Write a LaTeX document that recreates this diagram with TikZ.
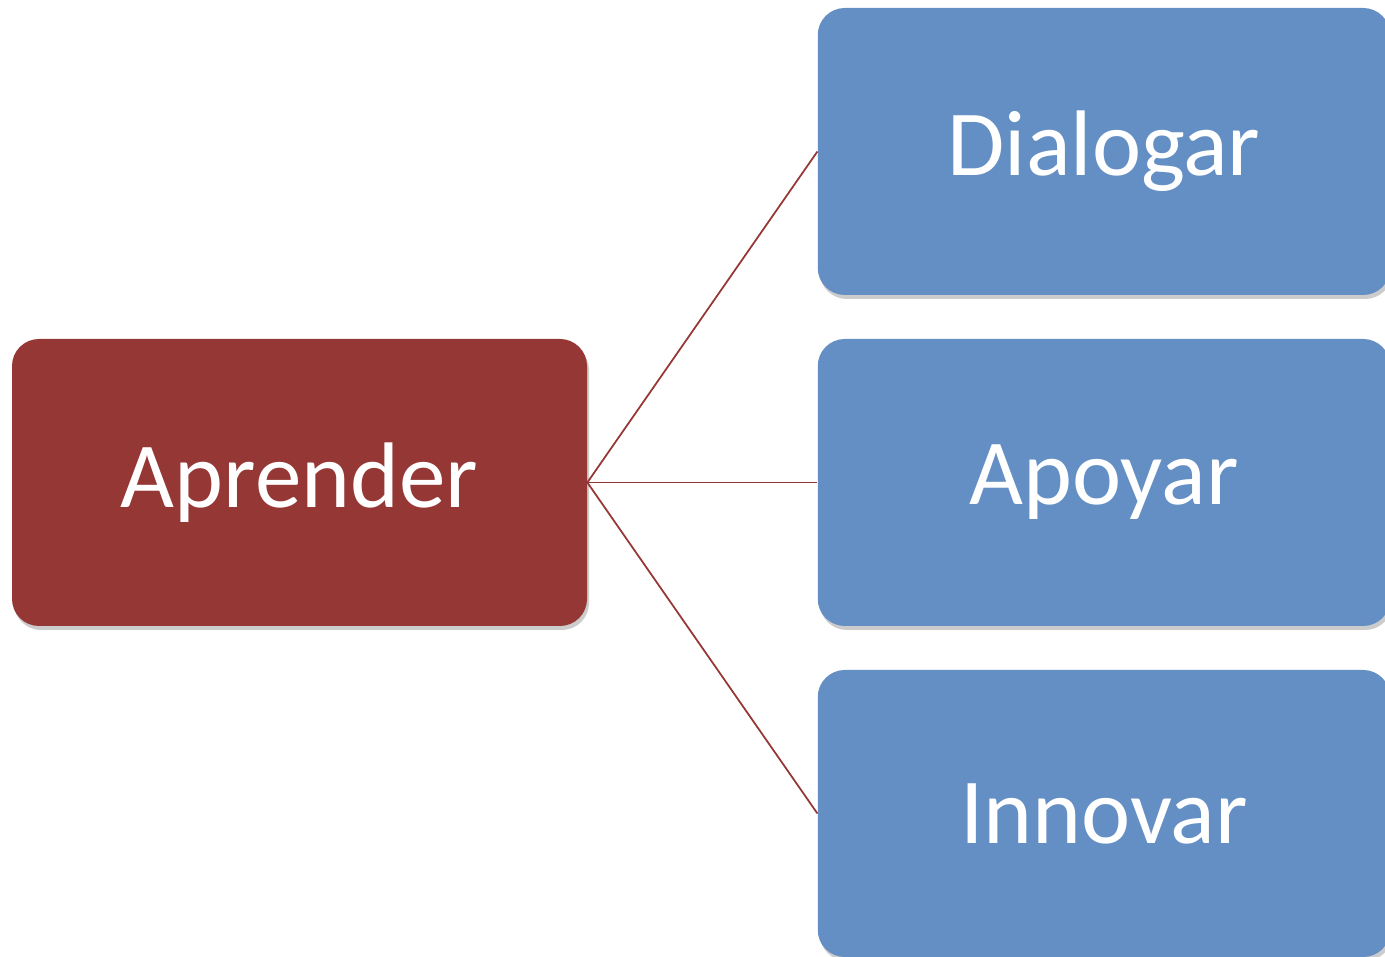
\documentclass[tikz,border=0pt]{standalone}
\usepackage{fontspec}
\setmainfont{Carlito}
\usetikzlibrary{shadows}
\definecolor{rojo}{HTML}{953735}
\definecolor{azul}{HTML}{648FC4}
\tikzset{
  caja/.style={rounded corners=0.54cm, minimum width=11.45cm, minimum height=5.74cm,
    text=white, font=\fontsize{53}{58}\selectfont,
    drop shadow={opacity=0.4, shadow xshift=0.04cm, shadow yshift=-0.08cm}},
  enlace/.style={draw=rojo, line width=1pt}
}
\begin{document}
\begin{tikzpicture}
  \useasboundingbox (0,0) rectangle (27.7,19.14);
  \node[caja, fill=rojo, minimum width=11.5cm] (aprender) at (5.99,9.49) {Aprender};
  \node[caja, fill=azul] (dialogar) at (22.08,16.11) {Dialogar};
  \node[caja, fill=azul] (apoyar) at (22.08,9.49) {Apoyar};
  \node[caja, fill=azul] (innovar) at (22.08,2.87) {Innovar};
  \foreach \n in {dialogar,apoyar,innovar} {
    \draw[enlace] (aprender.east) -- (\n.west); }
\end{tikzpicture}
\end{document}
